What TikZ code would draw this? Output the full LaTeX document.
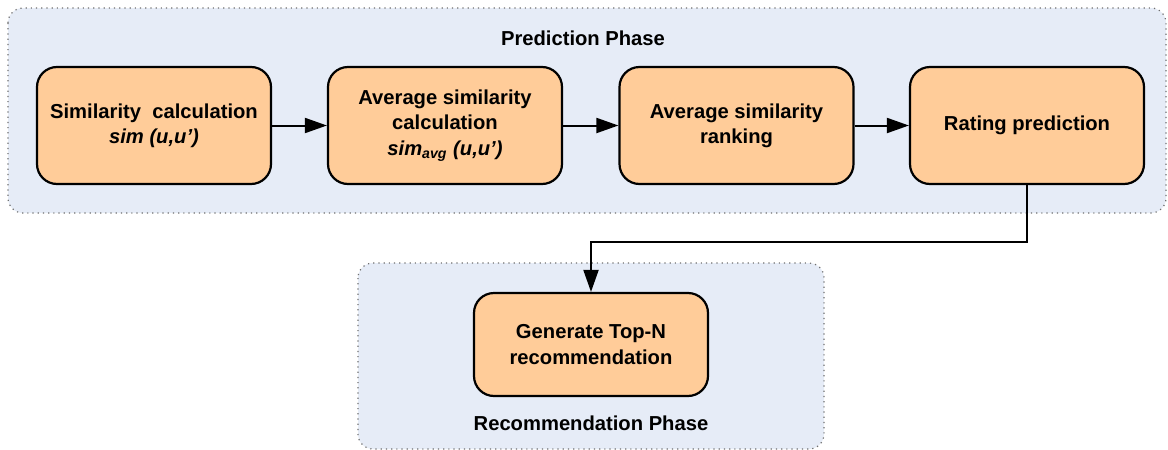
\documentclass[tikz,border=0pt]{standalone}
\usepackage{fontspec}
\setmainfont{Liberation Sans}
\usetikzlibrary{arrows.meta}
\definecolor{boxfill}{HTML}{FFCC99}
\definecolor{phasefill}{HTML}{E6ECF7}
\definecolor{phaseline}{HTML}{6F6F6F}
\tikzset{
  stepbox/.style={draw=black, line width=1.1pt, fill=boxfill, rounded corners=10pt,
    minimum width=117pt, minimum height=58.5pt, inner sep=0pt, align=center,
    font=\fontsize{10.1}{12.6}\selectfont\bfseries},
  phase/.style={draw=phaseline, dotted, line width=0.6pt, fill=phasefill, rounded corners=7.5pt},
  phaselabel/.style={font=\fontsize{10.1}{12}\selectfont\bfseries, inner sep=0pt},
  arr/.style={draw=black, line width=1pt, -{Triangle[length=11pt,width=7.5pt]}}
}
\begin{document}
\begin{tikzpicture}[x=0.5pt,y=-0.5pt]
\useasboundingbox (0,0) rectangle (1168,450);
\path[phase] (8,8) rectangle (1166,213);
\path[phase] (358,263) rectangle (824,449);
\node[phaselabel] (pt) at (583,38) {Prediction Phase};
\node[phaselabel] (rt) at (591,423) {Recommendation Phase};
\node[stepbox] (b1) at (154,125.5) {Similarity\ \ calculation\\\textit{sim (u,u’)}};
\node[stepbox] (b2) at (445,125.5) {Average similarity\\calculation\\\textit{sim\textsubscript{avg} (u,u’)}};
\node[stepbox] (b3) at (736.5,125.5) {Average similarity\\ranking};
\node[stepbox] (b4) at (1027,125.5) {Rating prediction};
\node[stepbox, minimum height=51.5pt] (b5) at (591,344.5) {Generate Top-N\\recommendation};
\coordinate (turn) at (1027,242);
\draw[arr] (b1) -- (b2);
\draw[arr] (b2) -- (b3);
\draw[arr] (b3) -- (b4);
\draw[arr] (b4.south) -- (turn) -| (b5.north);
\end{tikzpicture}
\end{document}
